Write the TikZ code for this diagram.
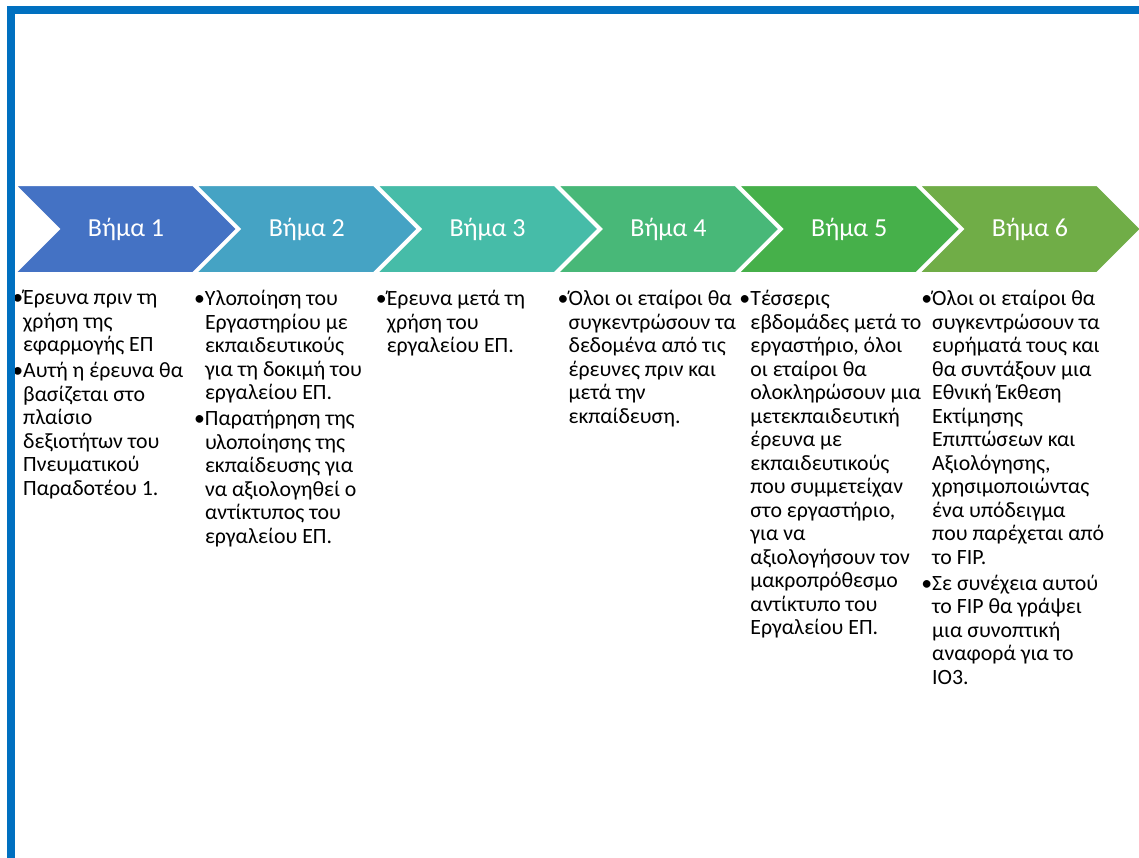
\documentclass[tikz,border=0pt]{standalone}
\usepackage{fontspec}
\setmainfont{Carlito}
\definecolor{frameblue}{HTML}{0070C0}
\definecolor{stepa}{HTML}{4472C4}
\definecolor{stepb}{HTML}{45A3C4}
\definecolor{stepc}{HTML}{46BCA8}
\definecolor{stepd}{HTML}{48B878}
\definecolor{stepe}{HTML}{46B04A}
\definecolor{stepf}{HTML}{70AD47}
\newcommand{\itemdot}{\makebox[11pt][c]{•}}
\newcommand{\itemgap}{\hspace*{11pt}}
\begin{document}
\begin{tikzpicture}[x=1pt, y=-1pt,
    chevron/.style={draw=white, line width=2pt, line join=miter},
    steplabel/.style={text=white, inner sep=0pt, font=\fontsize{26}{30}\selectfont},
    stepnote/.style={anchor=north west, align=left, inner sep=0pt, font=\fontsize{21.8}{23.5}\selectfont},
    frame/.style={draw=frameblue, line width=8pt}]
    \useasboundingbox (0,0) rectangle (1139,857);
    % chevrons
    \foreach \i/\c in {1/stepa, 2/stepb, 3/stepc, 4/stepd, 5/stepe, 6/stepf} {
      \pgfmathsetmacro\cx{126+180.8*(\i-1)}
      \path[chevron, fill=\c] ({\cx-111},185) -- ({\cx+67},185) -- ({\cx+111},229)
        -- ({\cx+67},273) -- ({\cx-111},273) -- ({\cx-67},229) -- cycle;
      \node[steplabel] (s\i) at (\cx,229) {Βήμα \i};
    }
    % notes
    \node[stepnote] (n1) at (12,290) {\itemdot Έρευνα πριν τη\\ \itemgap χρήση της\\ \itemgap εφαρμογής ΕΠ\\[2.5pt]
      \itemdot Αυτή η έρευνα θα\\ \itemgap βασίζεται στο\\ \itemgap πλαίσιο\\ \itemgap δεξιοτήτων του\\
      \itemgap Πνευματικού\\ \itemgap Παραδοτέου 1.};
    \node[stepnote] (n2) at (193.8,290) {\itemdot Υλοποίηση του\\ \itemgap Εργαστηρίου με\\ \itemgap εκπαιδευτικούς\\
      \itemgap για τη δοκιμή του\\ \itemgap εργαλείου ΕΠ.\\[2.5pt]
      \itemdot Παρατήρηση της\\ \itemgap υλοποίησης της\\ \itemgap εκπαίδευσης για\\ \itemgap να αξιολογηθεί ο\\
      \itemgap αντίκτυπος του\\ \itemgap εργαλείου ΕΠ.};
    \node[stepnote] (n3) at (375.6,290) {\itemdot Έρευνα μετά τη\\ \itemgap χρήση του\\ \itemgap εργαλείου ΕΠ.};
    \node[stepnote] (n4) at (557.4,290) {\itemdot Όλοι οι εταίροι θα\\ \itemgap συγκεντρώσουν τα\\ \itemgap δεδομένα από τις\\
      \itemgap έρευνες πριν και\\ \itemgap μετά την\\ \itemgap εκπαίδευση.};
    \node[stepnote] (n5) at (739.2,290) {\itemdot Τέσσερις\\ \itemgap εβδομάδες μετά το\\ \itemgap εργαστήριο, όλοι\\
      \itemgap οι εταίροι θα\\ \itemgap ολοκληρώσουν μια\\ \itemgap μετεκπαιδευτική\\ \itemgap έρευνα με\\
      \itemgap εκπαιδευτικούς\\ \itemgap που συμμετείχαν\\ \itemgap στο εργαστήριο,\\ \itemgap για να\\
      \itemgap αξιολογήσουν τον\\ \itemgap μακροπρόθεσμο\\ \itemgap αντίκτυπο του\\ \itemgap Εργαλείου ΕΠ.};
    \node[stepnote] (n6) at (921,290) {\itemdot Όλοι οι εταίροι θα\\ \itemgap συγκεντρώσουν τα\\ \itemgap ευρήματά τους και\\
      \itemgap θα συντάξουν μια\\ \itemgap Εθνική Έκθεση\\ \itemgap Εκτίμησης\\ \itemgap Επιπτώσεων και\\
      \itemgap Αξιολόγησης,\\ \itemgap χρησιμοποιώντας\\ \itemgap ένα υπόδειγμα\\ \itemgap που παρέχεται από\\
      \itemgap το FIP.\\[2.5pt]
      \itemdot Σε συνέχεια αυτού\\ \itemgap το FIP θα γράψει\\ \itemgap μια συνοπτική\\ \itemgap αναφορά για το\\ \itemgap IO3.};
    % frame
    \draw[frame] (11,862) |- (1144,10);
\end{tikzpicture}
\end{document}
